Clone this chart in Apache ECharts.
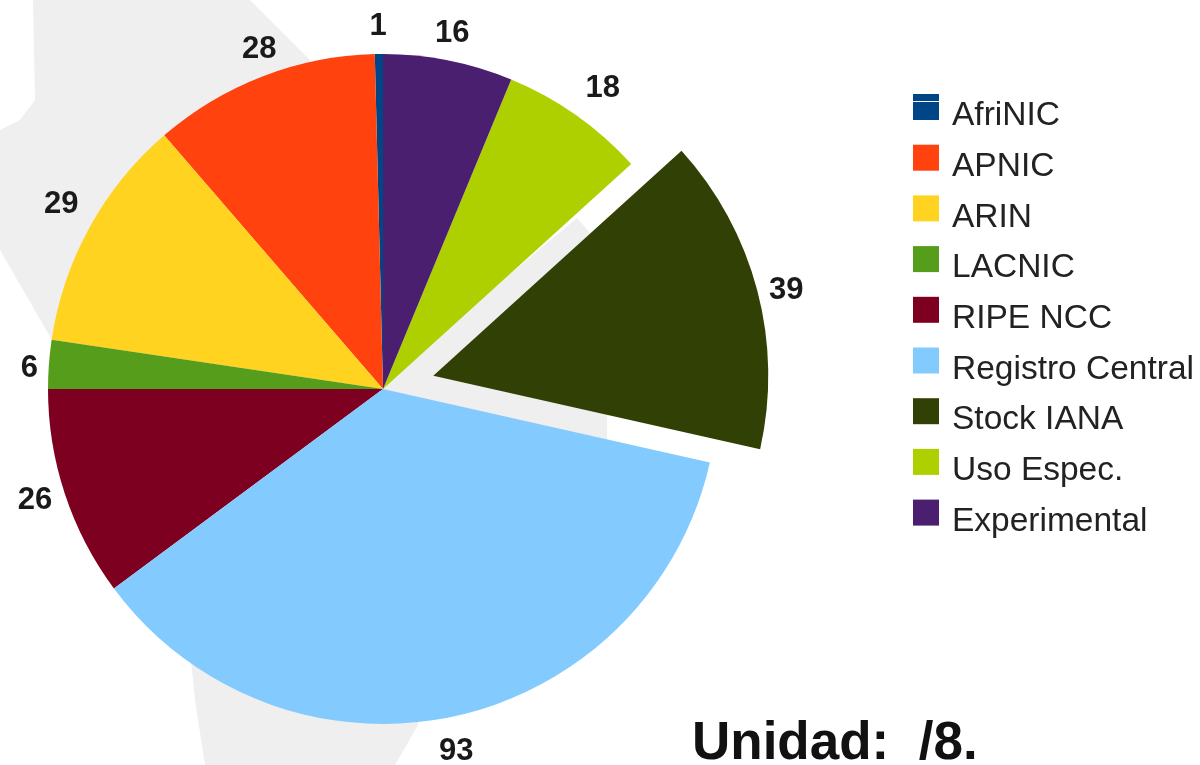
<!DOCTYPE html>
<html><head><meta charset="utf-8">
<style>html,body{margin:0;padding:0;background:#fff}#c{width:1200px;height:765px}</style>
<script src="https://cdn.jsdelivr.net/npm/echarts@6/dist/echarts.min.js"></script>
</head><body><div id="c"></div>
<script>
const categories = ['AfriNIC','APNIC','ARIN','LACNIC','RIPE NCC','Registro Central','Stock IANA','Uso Espec.','Experimental'];
const values = [1,28,29,6,26,93,39,18,16];
const colors = ['#004586','#ff420e','#ffd320','#579d1c','#7e0021','#83caff','#314004','#aecf00','#4b1f6f'];
const labelShiftX = [13,22,1,2,0,-20,-1,0,-20];
const labelShiftY = [-20,-20,-19,5,4,27,2,-20,-19];
const chart = echarts.init(document.getElementById('c'), null, {renderer:'canvas'});
const land = [
 [[33,0],[250,0],[310,60],[383,389],[52,340],[0,250],[0,130],[20,120],[35,100]],
 [[190,650],[420,650],[418,725],[395,765],[205,765],[195,700]],
 [[383,380],[577,218],[640,290],[607,417],[607,440],[383,400]]
];
const decor = land.map(p=>({type:'polygon',silent:true,z:-1,shape:{points:p},style:{fill:'#efefef'}}));
decor.push({type:'rect',silent:true,z:100,shape:{x:913,y:101,width:26,height:1},style:{fill:'#fff'}});
chart.setOption({
 animation:false,
 backgroundColor:'#fff',
 graphic:decor,
 title:{text:'Unidad:  /8.',left:687,top:713,textStyle:{fontFamily:'Liberation Sans',fontWeight:'bold',fontSize:53,color:'#111'}},
 legend:{orient:'vertical',left:908,top:76,itemWidth:26,itemHeight:26,itemGap:-1.3,icon:'rect',
   data:categories,selectedMode:false,itemStyle:{borderWidth:0},
   formatter:n=>'{t|'+n+'}',
   textStyle:{rich:{t:{fontFamily:'Liberation Sans',fontSize:33.5,color:'#222',padding:[18,0,0,8],lineHeight:20}}}},
 series:[{type:'pie',center:[383,389],radius:[0,335],startAngle:90,clockwise:false,
   selectedMode:'single',selectedOffset:52,avoidLabelOverlap:false,silent:true,
   label:{show:true,position:'outside',formatter:'{c}',fontFamily:'Liberation Sans',fontWeight:'bold',fontSize:31,color:'#1a1a1a'},
   labelLine:{show:false,length:8,length2:0},
   labelLayout:p=>({dx:labelShiftX[p.dataIndex],dy:labelShiftY[p.dataIndex]}),
   itemStyle:{borderWidth:0},
   data:categories.map((n,i)=>({name:n,value:values[i],selected:n==='Stock IANA',itemStyle:{color:colors[i]}}))}]
});
</script></body></html>
